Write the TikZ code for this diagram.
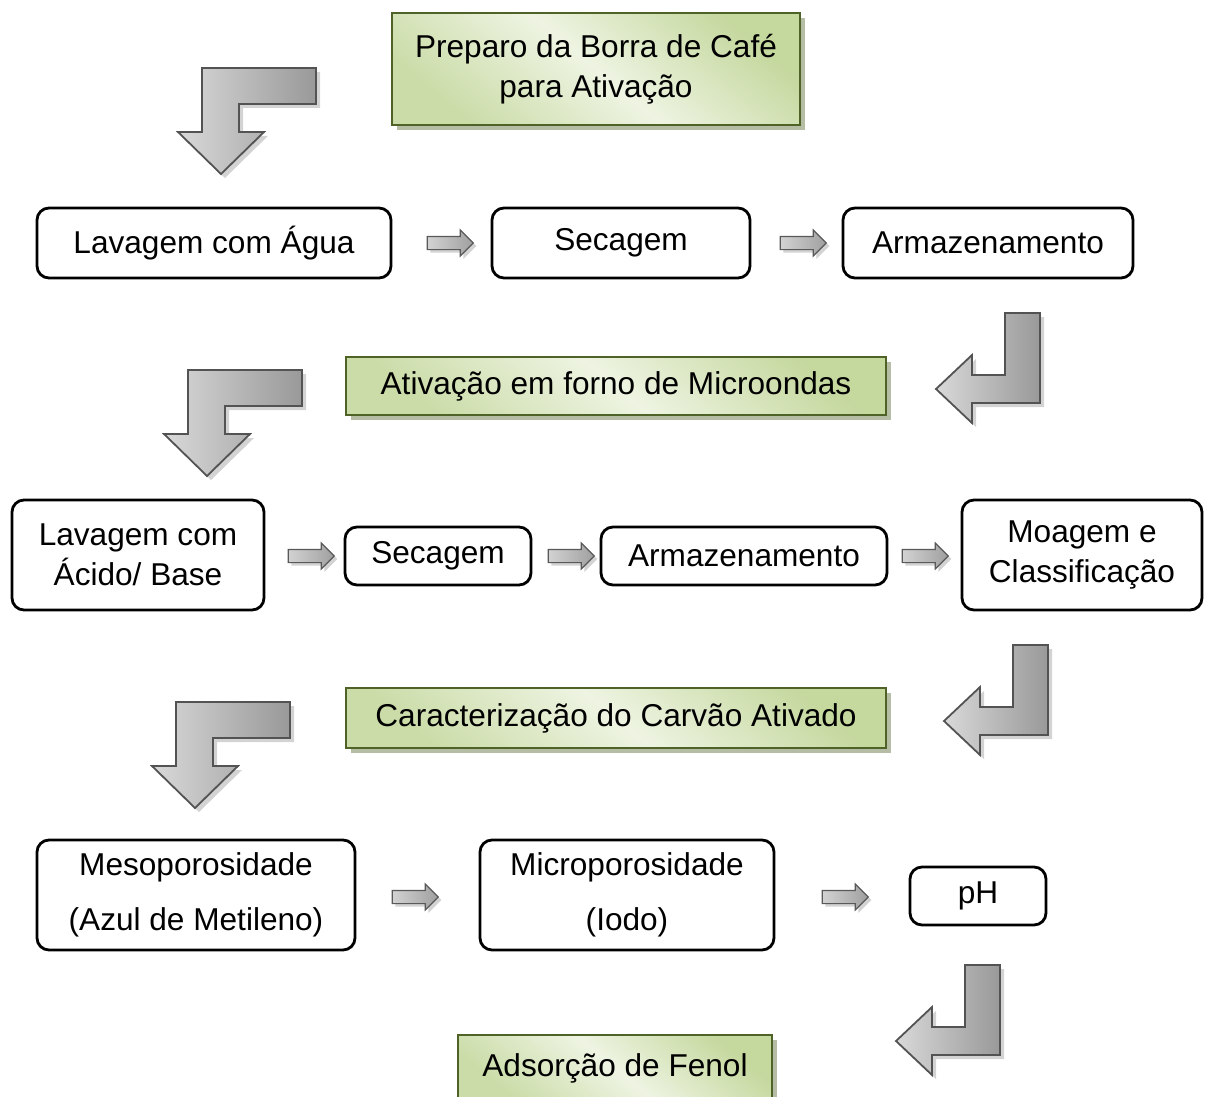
\documentclass[tikz,border=0pt]{standalone}
\usepackage{fontspec}
\setmainfont{Liberation Sans}
\usetikzlibrary{shapes.arrows,shadows}

\definecolor{verdeborda}{HTML}{4F6228}
\definecolor{verdeclaro}{HTML}{EEF4E2}
\definecolor{verdemedio}{HTML}{C5D89E}

\tikzset{
  passo/.style={draw=black, line width=1.4pt, rounded corners=6pt, align=center,
    inner sep=0pt, font=\fontsize{15.8}{20}\selectfont},
  etapa/.style={draw=verdeborda, line width=1pt, align=center, inner sep=0pt,
    font=\fontsize{15.8}{20}\selectfont,
    top color=verdemedio, bottom color=verdemedio!90, middle color=verdeclaro,
    shading angle=-40,
    drop shadow={shadow xshift=2.5pt, shadow yshift=-2.5pt, fill=verdeborda!70, opacity=0.6}},
  seta/.style={single arrow, draw=gray!70!black, line width=0.6pt,
    minimum height=23pt, inner xsep=0pt, inner ysep=3pt, single arrow head extend=3.2pt,
    single arrow tip angle=90,
    left color=gray!35, right color=gray!75,
    drop shadow={shadow xshift=1.5pt, shadow yshift=-1.5pt, opacity=0.35}},
  curva/.style={draw=gray!65!black, line width=0.9pt, left color=gray!30, right color=gray!80,
    drop shadow={shadow xshift=2pt, shadow yshift=-2pt, opacity=0.35}}
}

\begin{document}
\begin{tikzpicture}[x=0.5pt,y=-0.5pt]
\useasboundingbox (0,0) rectangle (1215,1097);

% etapas principais
\node[etapa, minimum width=204pt, minimum height=56pt] (prep) at (596,69) {Preparo da Borra de Café\\para Ativação};
\node[etapa, minimum width=270pt, minimum height=29pt] (ativ) at (616,386) {Ativação em forno de Microondas};
\node[etapa, minimum width=270pt, minimum height=30pt] (carac) at (616,718) {Caracterização do Carvão Ativado};
\node[etapa, minimum width=157pt, minimum height=33pt] (adso) at (615,1068) {Adsorção de Fenol};

% primeira linha
\node[passo, minimum width=177pt, minimum height=35pt] (lavA) at (214,243) {Lavagem com Água};
\node[passo, minimum width=129pt, minimum height=35pt] (secA) at (621,243) {Secagem};
\node[passo, minimum width=145pt, minimum height=35pt] (armA) at (988,243) {Armazenamento};

% segunda linha
\node[passo, minimum width=126pt, minimum height=55pt] (lavB) at (138,555) {Lavagem com\\Ácido/ Base};
\node[passo, minimum width=93pt, minimum height=29pt] (secB) at (438,556) {Secagem};
\node[passo, minimum width=143pt, minimum height=29pt] (armB) at (744,556) {Armazenamento};
\node[passo, minimum width=120pt, minimum height=55pt] (moag) at (1082,555) {Moagem e\\Classificação};

% terceira linha
\node[passo, minimum width=159pt, minimum height=55pt, font=\fontsize{15.8}{27.5}\selectfont] (meso) at (196,895) {Mesoporosidade\\(Azul de Metileno)};
\node[passo, minimum width=147pt, minimum height=55pt, font=\fontsize{15.8}{27.5}\selectfont] (micro) at (627,895) {Microporosidade\\(Iodo)};
\node[passo, minimum width=68pt, minimum height=29pt] (ph) at (978,896) {pH};

% setas pequenas
\node[seta] (s1) at (447,243) {};
\node[seta] (s2) at (800,243) {};
\node[seta] (s3) at (308,556) {};
\node[seta] (s4) at (568,556) {};
\node[seta] (s5) at (922,556) {};
\node[seta] (s6) at (412,897) {};
\node[seta] (s7) at (842,897) {};

% setas curvas para baixo
\foreach \px/\py in {316/68, 302/370, 290/702}
  \path[curva, shift={(\px,\py)}] (0,0) -- (0,36) -- (-77,36) -- (-77,64) -- (-52,64)
    -- (-95,106) -- (-138,64) -- (-114,64) -- (-114,0) -- cycle;

% setas curvas para a esquerda
\foreach \px/\py in {1040/313, 1048/645, 1000/965}
  \path[curva, shift={(\px,\py)}] (0,0) -- (0,90) -- (-68,90) -- (-68,110)
    -- (-104,76) -- (-68,42) -- (-68,62) -- (-35,62) -- (-35,0) -- cycle;

\end{tikzpicture}
\end{document}
